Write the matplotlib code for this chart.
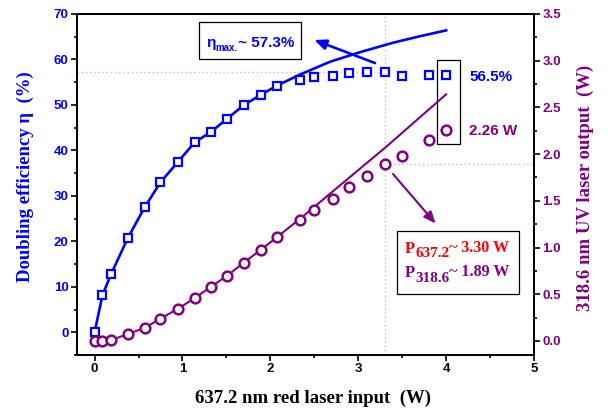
import matplotlib
matplotlib.use("Agg")
import matplotlib.pyplot as plt
from matplotlib.patches import Rectangle
from matplotlib.ticker import MultipleLocator

# measured points
pump = [0, 0.09, 0.19, 0.38, 0.57, 0.75, 0.95, 1.14, 1.32, 1.51, 1.70, 1.89,
        2.08, 2.34, 2.50, 2.71, 2.90, 3.10, 3.30, 3.50, 3.80, 4.00]
eta = [0, 8.2, 12.9, 20.8, 27.5, 33.0, 37.5, 41.8, 44.0, 47.0, 50.0, 52.2,
       54.1, 55.4, 56.1, 56.3, 57.0, 57.2, 57.3, 56.3, 56.5, 56.5]
uv = [0.0, 0.0, 0.01, 0.075, 0.14, 0.24, 0.345, 0.46, 0.577, 0.70, 0.84, 0.975,
      1.115, 1.295, 1.40, 1.52, 1.65, 1.77, 1.89, 1.98, 2.15, 2.26]

# fitted curves
eta_fit_x = [0, 0.09, 0.19, 0.38, 0.57, 0.75, 0.95, 1.14, 1.32, 1.51, 1.70, 1.89,
             2.08, 2.34, 2.68, 3.02, 3.40, 3.70, 4.00]
eta_fit_y = [0, 8.2, 12.9, 20.8, 27.5, 33.0, 37.5, 41.8, 44.0, 47.0, 50.0, 52.2,
             54.3, 56.7, 59.5, 61.6, 63.7, 65.1, 66.4]
uv_fit_x = [0, 0.09, 0.19, 0.38, 0.57, 0.75, 0.95, 1.14, 1.32, 1.51, 1.70, 1.89,
            2.08, 2.34, 3.32, 4.00]
uv_fit_y = [0, 0.0, 0.01, 0.075, 0.14, 0.24, 0.345, 0.46, 0.577, 0.70, 0.84, 0.975,
            1.115, 1.31, 2.08, 2.64]

eta_max = 57.3
p_red_max = 3.30
p_uv_max = 1.89

BLUE = "#0000ff"
PURPLE = "#800080"
PINK = "#ffaaaa"
SANS = "Liberation Sans"
SERIF = "Liberation Serif"

W, H = 616, 408
fig = plt.figure(figsize=(W / 100, H / 100), dpi=100)
ax = fig.add_axes([77 / W, 1 - 355 / H, 457 / W, 341 / H])
ax2 = ax.twinx()

ax.set_xlim(-0.2, 5)
ax.set_ylim(-5, 70)
ax2.set_ylim(-0.15, 3.5)

# reference lines
ax.plot([-0.2, p_red_max], [eta_max, eta_max], ls=(0, (1, 2)), color=PINK, lw=1, zorder=1)
ax.axvline(p_red_max, ls=(0, (1, 2)), color=PINK, lw=1, zorder=1)
ax2.plot([p_red_max, 5], [p_uv_max, p_uv_max], ls=(0, (1, 2)), color=PINK, lw=1, zorder=1)

ax.plot(eta_fit_x, eta_fit_y, color=BLUE, lw=1.9, zorder=3)
ax.plot(pump, eta, ls="none", marker="s", ms=5.5, mfc="white", mec=BLUE, mew=1.6, zorder=4)
ax2.plot(uv_fit_x, uv_fit_y, color=PURPLE, lw=1.5, zorder=3)
ax2.plot(pump, uv, ls="none", marker="o", ms=7, mfc="white", mec=PURPLE, mew=1.8, zorder=4)

# axes styling
for a in (ax, ax2):
    for s in a.spines.values():
        s.set_linewidth(1.4)
ax.xaxis.set_major_locator(MultipleLocator(1))
ax.xaxis.set_minor_locator(MultipleLocator(0.5))
ax.yaxis.set_major_locator(MultipleLocator(10))
ax.yaxis.set_minor_locator(MultipleLocator(5))
ax2.yaxis.set_major_locator(MultipleLocator(0.5))
ax2.yaxis.set_minor_locator(MultipleLocator(0.25))
ax2.yaxis.set_major_formatter(matplotlib.ticker.FormatStrFormatter("%.1f"))

ax.tick_params(axis="both", which="major", direction="out", length=4, width=1.2, pad=2)
ax.tick_params(axis="both", which="minor", direction="out", length=2.5, width=1.2)
ax2.tick_params(axis="y", which="major", direction="out", length=4, width=1.2, pad=2)
ax2.tick_params(axis="y", which="minor", direction="out", length=2.5, width=1.2)

for lab in ax.get_xticklabels():
    lab.set_fontfamily(SANS); lab.set_fontweight("bold"); lab.set_fontsize(9.5)
for lab in ax.get_yticklabels():
    lab.set_fontfamily(SANS); lab.set_fontweight("bold"); lab.set_fontsize(9.5); lab.set_color(BLUE)
for lab in ax2.get_yticklabels():
    lab.set_fontfamily(SANS); lab.set_fontweight("bold"); lab.set_fontsize(9.5); lab.set_color(PURPLE)

ax.set_xlabel("637.2 nm red laser input  (W)", fontfamily=SERIF, fontweight="bold", fontsize=13.5)
ax.xaxis.set_label_coords(0.516, -0.126)
ax.xaxis.label.set_va("center")
ax.set_ylabel("Doubling efficiency \u03b7  (%)", fontfamily=SERIF, fontweight="bold",
              fontsize=13.5, color=BLUE)
ax.yaxis.set_label_coords(-0.114, 0.523)
ax.yaxis.label.set_va("center")
ax2.set_ylabel("318.6 nm UV laser output  (W)", fontfamily=SERIF, fontweight="bold",
               fontsize=13.5, color=PURPLE, rotation=90)
ax2.yaxis.set_label_coords(1.112, 0.491)
ax2.yaxis.label.set_va("center")

# annotations
ax.annotate("", xy=(2.47, 64.5), xytext=(3.22, 59.0),
            arrowprops=dict(arrowstyle="-|>,head_length=0.7,head_width=0.3", color=BLUE, lw=1.9))
ax2.annotate("", xy=(3.90, 1.236), xytext=(3.375, 1.81),
             arrowprops=dict(arrowstyle="-|>,head_length=0.7,head_width=0.3", color=PURPLE, lw=1.5))
ax.add_patch(Rectangle((3.90, 41.3), 0.26, 18.6, fill=False, lw=0.9, ec="black", zorder=5))


def px(x, y):
    return x / W, 1 - y / H


def add_box(x0, y0, x1, y1):
    fig.patches.append(Rectangle(px(x0, y1), (x1 - x0) / W, (y1 - y0) / H, fill=False,
                                 lw=0.9, ec="black", transform=fig.transFigure, figure=fig))


renderer = fig.canvas.get_renderer()


def pieces(x, y, parts, family):
    # parts: (text, size, color, baseline shift in px)
    for text, size, color, dy in parts:
        t = fig.text(*px(x, y + dy), text, fontsize=size, color=color, family=family,
                     fontweight="bold", va="baseline", ha="left")
        x += t.get_window_extent(renderer).width


add_box(199, 22, 301, 59)
pieces(206, 46.7, [("\u03b7", 11, BLUE, 0), ("max.", 7, BLUE, 4.5), ("~ 57.3%", 11, BLUE, 0)], SANS)

fig.text(*px(469, 81), "56.5%", fontsize=11, color=BLUE, family=SANS, fontweight="bold", va="baseline")
fig.text(*px(469, 135), "2.26 W", fontsize=11, color=PURPLE, family=SANS, fontweight="bold", va="baseline")

add_box(397, 231, 519, 294)
pieces(405, 253, [("P", 12, "red", 0), ("637.2", 11, "red", 4), ("~ 3.30 W", 11.5, "red", -1)], SERIF)
pieces(405, 277, [("P", 12, PURPLE, 0), ("318.6", 11, PURPLE, 5), ("~ 1.89 W", 11.5, PURPLE, -1)], SERIF)

fig.savefig("out.png", dpi=100, facecolor="white")
